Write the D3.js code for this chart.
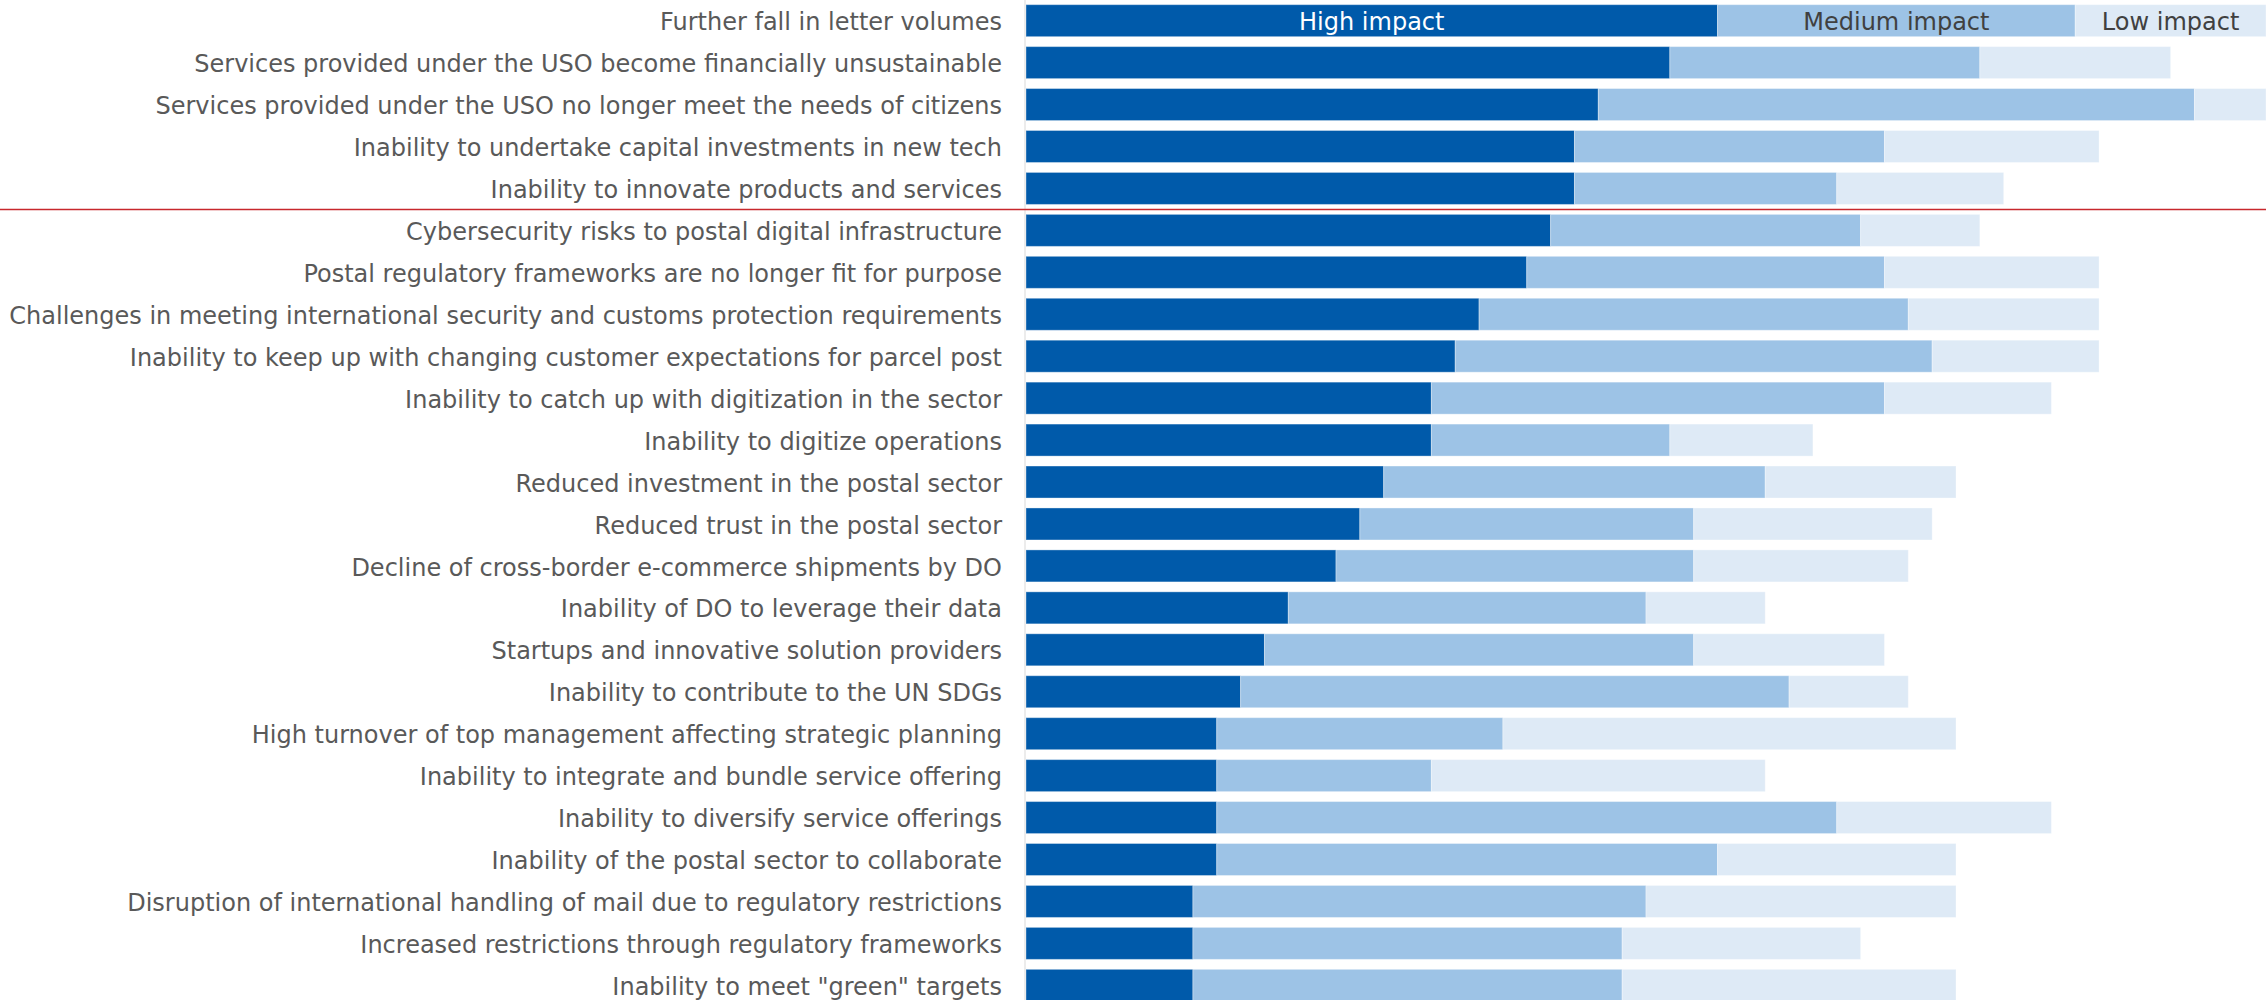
<!DOCTYPE html>
<html>
<head>
<meta charset="utf-8">
<script src="https://cdn.jsdelivr.net/npm/d3@7"></script>
<style>
  html, body { margin: 0; padding: 0; background: #ffffff; overflow: hidden; }
  svg { display: block; }
  text { font-family: Verdana, "DejaVu Sans", sans-serif; }
</style>
</head>
<body>
<div id="chart"></div>
<script>
const categories = [
    "Further fall in letter volumes",
    "Services provided under the USO become financially unsustainable",
    "Services provided under the USO no longer meet the needs of citizens",
    "Inability to undertake capital investments in new tech",
    "Inability to innovate products and services",
    "Cybersecurity risks to postal digital infrastructure",
    "Postal regulatory frameworks are no longer fit for purpose",
    "Challenges in meeting international security and customs protection requirements",
    "Inability to keep up with changing customer expectations for parcel post",
    "Inability to catch up with digitization in the sector",
    "Inability to digitize operations",
    "Reduced investment in the postal sector",
    "Reduced trust in the postal sector",
    "Decline of cross-border e-commerce shipments by DO",
    "Inability of DO to leverage their data",
    "Startups and innovative solution providers",
    "Inability to contribute to the UN SDGs",
    "High turnover of top management affecting strategic planning",
    "Inability to integrate and bundle service offering",
    "Inability to diversify service offerings",
    "Inability of the postal sector to collaborate",
    "Disruption of international handling of mail due to regulatory restrictions",
    "Increased restrictions through regulatory frameworks",
    "Inability to meet \"green\" targets"
];

const highImpact   = [29, 27, 24, 23, 23, 22, 21, 19, 18, 17, 17, 15, 14, 13, 11, 10, 9, 8, 8, 8, 8, 7, 7, 7];
const mediumImpact = [15, 13, 25, 13, 11, 13, 15, 18, 20, 19, 10, 16, 14, 15, 15, 18, 23, 12, 9, 26, 21, 19, 18, 18];
const lowImpact    = [8, 8, 3, 9, 7, 5, 9, 8, 7, 7, 6, 8, 10, 9, 5, 8, 5, 19, 14, 9, 10, 13, 10, 14];

const seriesKeys = ["high", "medium", "low"];
const seriesNames = ["High impact", "Medium impact", "Low impact"];
const seriesColors = ["#005aaa", "#9dc3e6", "#deeaf6"];
const legendTextColors = ["#ffffff", "#404040", "#404040"];

const X_MAX = 52; // number of respondents
const SPLIT_AFTER = 5; // red separator after the first five risks

const WIDTH = 2266, HEIGHT = 1000;
const BAR_LEFT = 1026;

const rows = categories.map((c, i) => ({
    name: c,
    high: highImpact[i],
    medium: mediumImpact[i],
    low: lowImpact[i]
}));

const stacked = d3.stack().keys(seriesKeys)(rows);

const x = d3.scaleLinear().domain([0, X_MAX]).range([BAR_LEFT, WIDTH]);
const y = d3.scaleBand()
    .domain(categories)
    .range([-0.3, 1006.3])
    .paddingInner(0.237)
    .paddingOuter(0.1185);

const svg = d3.select("#chart").append("svg")
    .attr("width", WIDTH)
    .attr("height", HEIGHT);

// bars
const layers = svg.append("g").selectAll("g")
    .data(stacked)
    .join("g")
    .attr("fill", (d, i) => seriesColors[i]);

layers.selectAll("rect")
    .data(d => d)
    .join("rect")
    .attr("x", d => x(d[0]))
    .attr("y", d => y(d.data.name))
    .attr("width", d => x(d[1]) - x(d[0]))
    .attr("height", y.bandwidth())
    .attr("stroke", "#ffffff")
    .attr("stroke-opacity", 0.35)
    .attr("stroke-width", 1);

// y axis line
svg.append("line")
    .attr("x1", BAR_LEFT - 1).attr("x2", BAR_LEFT - 1)
    .attr("y1", 0).attr("y2", HEIGHT)
    .attr("stroke", "#d9d9d9")
    .attr("stroke-width", 1);

// category labels
svg.append("g").selectAll("text")
    .data(categories)
    .join("text")
    .attr("x", BAR_LEFT - 24)
    .attr("y", d => y(d) + y.bandwidth() / 2)
    .attr("dy", "0.4em")
    .attr("text-anchor", "end")
    .attr("font-size", 24)
    .attr("fill", "#595959")
    .text(d => d);

// series names written inside the first bar
const first = rows[0];
svg.append("g").selectAll("text")
    .data(stacked)
    .join("text")
    .attr("x", s => (x(s[0][0]) + x(s[0][1])) / 2)
    .attr("y", y(first.name) + y.bandwidth() / 2)
    .attr("dy", "0.4em")
    .attr("text-anchor", "middle")
    .attr("font-size", 24)
    .attr("fill", (s, i) => legendTextColors[i])
    .text((s, i) => seriesNames[i]);

// red separator
const gap = y.step() - y.bandwidth();
const sepY = y(categories[SPLIT_AFTER - 1]) + y.bandwidth() + gap / 2;
svg.append("line")
    .attr("x1", 0).attr("x2", WIDTH)
    .attr("y1", sepY).attr("y2", sepY)
    .attr("stroke", "#c8282d")
    .attr("stroke-width", 1.5);
</script>
</body>
</html>
